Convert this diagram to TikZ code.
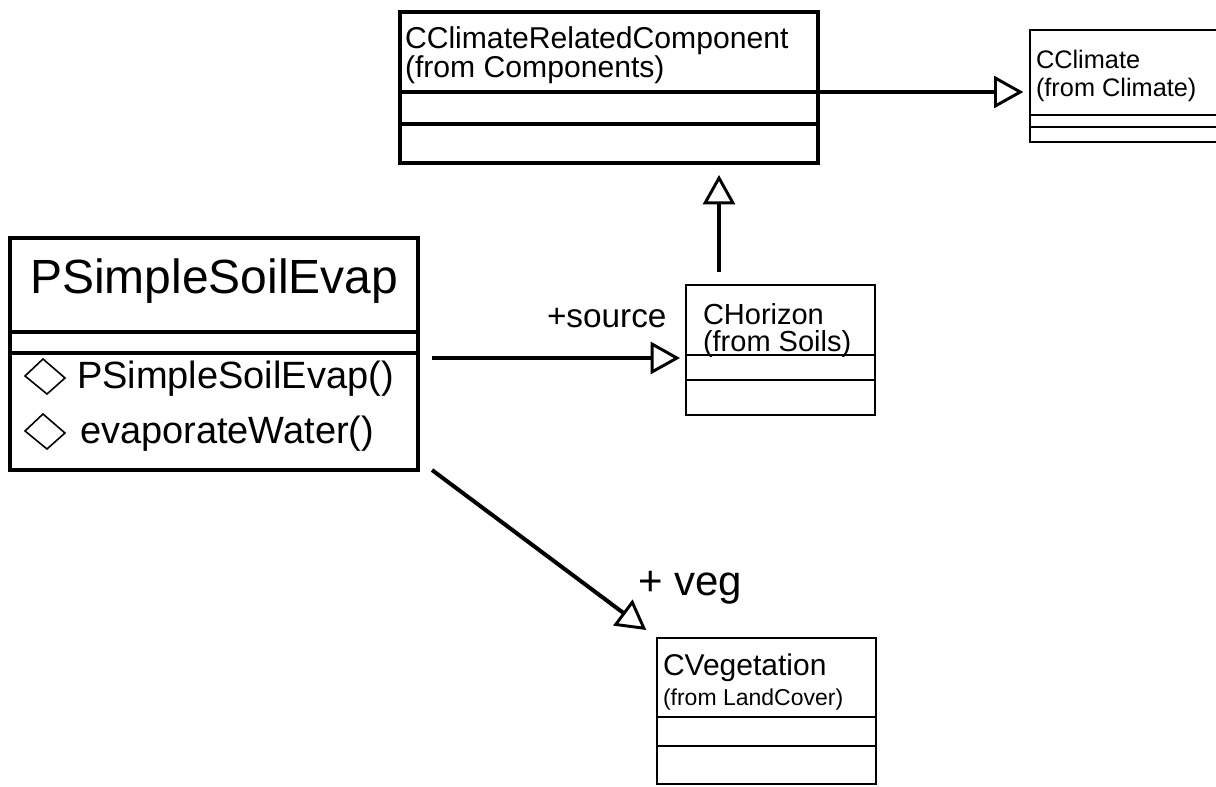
\documentclass[tikz,border=0pt]{standalone}
\usepackage{fontspec}
\setmainfont{Liberation Sans}
\usetikzlibrary{arrows.meta,fit}
\begin{document}
\begin{tikzpicture}[x=0.75pt,y=-0.75pt,
  box/.style={draw=black,inner sep=0pt,outer sep=0pt},
  txt/.style={anchor=base west,inner sep=0pt,outer sep=0pt},
  gen/.style={line width=3pt,-{Triangle[open,length=22pt,width=24pt,line width=2.2pt]}},
  dia/.style={line width=1.2pt,line join=miter}
]
\useasboundingbox (0,0) rectangle (1216,786);

% CClimateRelatedComponent
\node[box,line width=2.4pt,fit={(400,12)(818,163)}] (crc) {};
\draw[line width=2.4pt] (crc.west |- 0,92) -- (crc.east |- 0,92);
\draw[line width=2.4pt] (crc.west |- 0,124) -- (crc.east |- 0,124);
\node[txt,font=\fontsize{22.6pt}{26pt}\selectfont] (crct) at (405,48) {CClimateRelatedComponent};
\node[txt,font=\fontsize{22.6pt}{26pt}\selectfont] (crcf) at (405,77) {(from Components)};

% CClimate
\node[box,line width=1.6pt,fit={(1030,30)(1230,142)}] (ccl) {};
\draw[line width=1.6pt] (ccl.west |- 0,115) -- (ccl.east |- 0,115);
\draw[line width=1.6pt] (ccl.west |- 0,127) -- (ccl.east |- 0,127);
\node[txt,font=\fontsize{19pt}{22pt}\selectfont] (cclt) at (1036,68) {CClimate};
\node[txt,font=\fontsize{19pt}{22pt}\selectfont] (cclf) at (1036,96) {(from Climate)};

% PSimpleSoilEvap
\node[box,line width=3pt,fit={(10,238)(418,470)}] (pse) {};
\draw[line width=3pt] (pse.west |- 0,332) -- (pse.east |- 0,332);
\draw[line width=3pt] (pse.west |- 0,353) -- (pse.east |- 0,353);
\node[txt,font=\fontsize{36pt}{40pt}\selectfont] (pset) at (30,293) {PSimpleSoilEvap};
\node[txt,font=\fontsize{28.5pt}{32pt}\selectfont] (psem1) at (77,388) {PSimpleSoilEvap()};
\node[txt,font=\fontsize{28.5pt}{32pt}\selectfont] (psem2) at (80,443) {evaporateWater()};
\draw[dia] (25,376) -- (43,359) -- (65,378) -- (47,394) -- cycle;
\draw[dia] (25,431) -- (43,414) -- (65,433) -- (47,449) -- cycle;

% CHorizon
\node[box,line width=1.6pt,fit={(686,285)(875,415)}] (chor) {};
\draw[line width=1.6pt] (chor.west |- 0,355) -- (chor.east |- 0,355);
\draw[line width=1.6pt] (chor.west |- 0,380) -- (chor.east |- 0,380);
\node[txt,font=\fontsize{21.75pt}{24pt}\selectfont] (chort) at (703,324) {CHorizon};
\node[txt,font=\fontsize{21.75pt}{24pt}\selectfont] (chorf) at (703,351) {(from Soils)};

% CVegetation
\node[box,line width=1.9pt,fit={(657,638)(876,784)}] (cveg) {};
\draw[line width=1.9pt] (cveg.west |- 0,717) -- (cveg.east |- 0,717);
\draw[line width=1.9pt] (cveg.west |- 0,746) -- (cveg.east |- 0,746);
\node[txt,font=\fontsize{22.5pt}{25pt}\selectfont] (cvegt) at (663,675) {CVegetation};
\node[txt,font=\fontsize{17.25pt}{20pt}\selectfont] (cvegf) at (663,705) {(from LandCover)};

% connectors
\coordinate (s1) at (432,358);
\coordinate (s2) at (719,272);
\coordinate (s3) at (432,470);
\draw[gen,shorten >=5pt] (crc.east |- 0,92) -- (ccl.west |- 0,92);
\draw[gen,shorten >=4.5pt] (s1) -- (s1 -| chor.west);
\draw[gen,shorten >=9pt] (s2) -- (s2 |- crc.south);
\draw[gen,shorten >=10pt] (s3) -- (cveg.north west);

% labels
\node[txt,font=\fontsize{25pt}{28pt}\selectfont] (lsrc) at (547,327) {+source};
\node[txt,font=\fontsize{31.5pt}{34pt}\selectfont] (lveg) at (638,595) {+ veg};
\end{tikzpicture}
\end{document}
